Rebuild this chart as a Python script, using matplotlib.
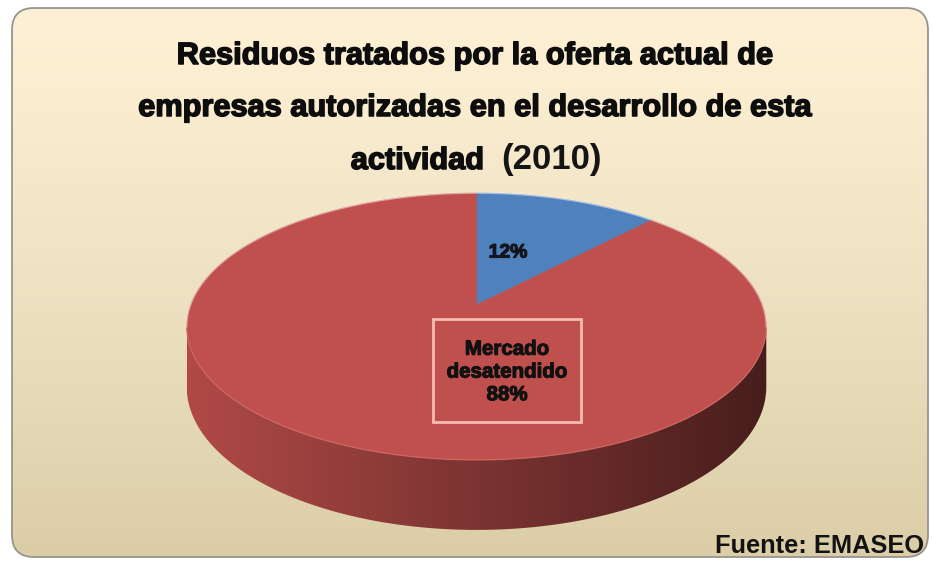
import numpy as np
import matplotlib
matplotlib.use('Agg')
import matplotlib.pyplot as plt
from matplotlib.patches import Polygon, FancyBboxPatch, Rectangle
from matplotlib import font_manager
from matplotlib.colors import to_rgb
import matplotlib.patheffects as pe

# ---------------- data ----------------
categories = ['Oferta actual de empresas autorizadas', 'Mercado desatendido']
values = [12, 88]
slice_colors = ['#4F81BD', '#C0504D']
label_names = ['', 'Mercado\ndesatendido']
title_lines = ['Residuos tratados por la oferta actual de',
               'empresas autorizadas en el desarrollo de esta',
               'actividad']
title_year = '(2010)'
source_text = 'Fuente: EMASEO'

# ---------------- fonts ----------------
names = {f.name for f in font_manager.fontManager.ttflist}
if 'Liberation Sans Narrow' in names:
    NARROW = ['Liberation Sans Narrow', 'DejaVu Sans']
    nscale = 1.0
else:
    NARROW = ['Liberation Sans', 'DejaVu Sans']
    nscale = 0.82
WIDE = ['Liberation Sans', 'DejaVu Sans']
heavy = [pe.withStroke(linewidth=1.1, foreground='#0d0d0d')]
heavy_s = [pe.withStroke(linewidth=0.8, foreground='#111111')]

W, H = 932, 561
fig = plt.figure(figsize=(W / 100, H / 100), dpi=100)
ax = fig.add_axes([0, 0, 1, 1])

# ---------------- background frame ----------------
fx0, fy0, fx1, fy1 = 12, 8, 928, 557
frame = FancyBboxPatch((fx0, fy0), fx1 - fx0, fy1 - fy0,
                       boxstyle='round,pad=0,rounding_size=22',
                       facecolor='none', edgecolor='#98948C', lw=1.3, zorder=5)
ax.add_patch(frame)
g = np.linspace(0, 1, 256)[:, None, None] ** 1.3
top_c = np.array(to_rgb('#FDF0D4'))
bot_c = np.array(to_rgb('#DACDA7'))
bg = top_c * (1 - g) + bot_c * g
im = ax.imshow(bg, extent=(fx0, fx1, fy0, fy1), origin='lower', aspect='auto', zorder=0)
im.set_clip_path(frame)

# ---------------- 3D pie with perspective ----------------
k = 0.161
cx, cy = 476.5, 305.0
Sx, Sy = 286.0, 130.0
depth = 58.7


def proj(theta_deg, r=1.0):
    t = np.radians(theta_deg)
    u = r * np.sin(t)
    v = r * np.cos(t)
    w = 1 + k * v
    return cx + Sx * u / w, cy - Sy * v / w, w


fr = np.array(values, dtype=float) / np.sum(values)
ends = np.cumsum(fr) * 360.0
starts = np.concatenate([[0.0], ends[:-1]])

ts = np.linspace(0, 360, 3601)
Xs = np.sin(np.radians(ts)) / (1 + k * np.cos(np.radians(ts)))
theta_R = ts[np.argmax(Xs)]
theta_L = ts[np.argmin(Xs)]
xl_all, _, _ = proj(theta_L)
xr_all, _, _ = proj(theta_R)

# sides (front wall)
for a0, a1, col in zip(starts, ends, slice_colors):
    s0, s1 = max(a0, theta_R), min(a1, theta_L)
    if s1 <= s0:
        continue
    th = np.linspace(s0, s1, 300)
    xt, yt, wt = proj(th)
    yb = yt + depth / wt
    pts = np.vstack([np.column_stack([xt, yt]), np.column_stack([xt[::-1], yb[::-1]])])
    poly = Polygon(pts, closed=True, facecolor='none', edgecolor='none', zorder=2)
    ax.add_patch(poly)
    base = np.array(to_rgb(col))
    xs = np.linspace(0, 1, 256)
    shade = 0.92 - (0.92 - 0.37) * xs
    gimg = (base[None, :] * shade[:, None])[None, :, :]
    ymin, ymax = pts[:, 1].min(), pts[:, 1].max()
    sim = ax.imshow(gimg, extent=(xl_all, xr_all, ymin, ymax), origin='lower',
                    aspect='auto', zorder=2)
    sim.set_clip_path(poly)

# top faces
for a0, a1, col in zip(starts, ends, slice_colors):
    th = np.linspace(a0, a1, 400)
    xt, yt, _ = proj(th)
    pts = np.vstack([[cx, cy], np.column_stack([xt, yt])])
    ax.add_patch(Polygon(pts, closed=True, facecolor=col, edgecolor=col,
                         lw=0.6, zorder=3))

# light rim on the far edge
th = np.linspace(theta_L - 360, theta_R, 400)
xt, yt, _ = proj(th)
ax.plot(xt, yt, color='white', alpha=0.45, lw=1.2, zorder=4)
th = np.linspace(theta_R, theta_L, 400)
xt, yt, _ = proj(th)
ax.plot(xt, yt, color='#E08A84', alpha=0.35, lw=1.0, zorder=4)

# ---------------- labels ----------------
ax.text(508, 253, f'{values[0]}%', ha='center', va='center',
        fontsize=17 * nscale, fontweight='bold', family=NARROW,
        color='#15151f', zorder=6, path_effects=heavy_s)

ax.add_patch(Rectangle((433, 319), 148, 103, facecolor='none',
                       edgecolor='#F6BCB4', lw=2, zorder=6))
ax.text(507, 372, f'{label_names[1]}\n{values[1]}%', ha='center', va='center',
        fontsize=18 * nscale, fontweight='bold', family=NARROW,
        color='#111111', linespacing=1.25, zorder=6, path_effects=heavy_s)

# ---------------- titles ----------------
ax.text(475, 64, title_lines[0], ha='center', va='baseline',
        fontsize=27 * nscale, fontweight='bold', family=NARROW, color='#0d0d0d',
        zorder=6, path_effects=heavy)
ax.text(475, 116, title_lines[1], ha='center', va='baseline',
        fontsize=27 * nscale, fontweight='bold', family=NARROW, color='#0d0d0d',
        zorder=6, path_effects=heavy)
ax.text(484, 169, title_lines[2], ha='right', va='baseline',
        fontsize=27 * nscale, fontweight='bold', family=NARROW, color='#0d0d0d',
        zorder=6, path_effects=heavy)
ax.text(501, 169, title_year, ha='left', va='baseline',
        fontsize=25, fontweight='bold', family=WIDE, color='#151515', zorder=6)

ax.text(924, 553, source_text, ha='right', va='baseline',
        fontsize=18.3, fontweight='bold', family=WIDE, color='#121212', zorder=6)

ax.set_xlim(0, W)
ax.set_ylim(H, 0)
ax.axis('off')
fig.savefig('out.png', dpi=100, facecolor='white')
